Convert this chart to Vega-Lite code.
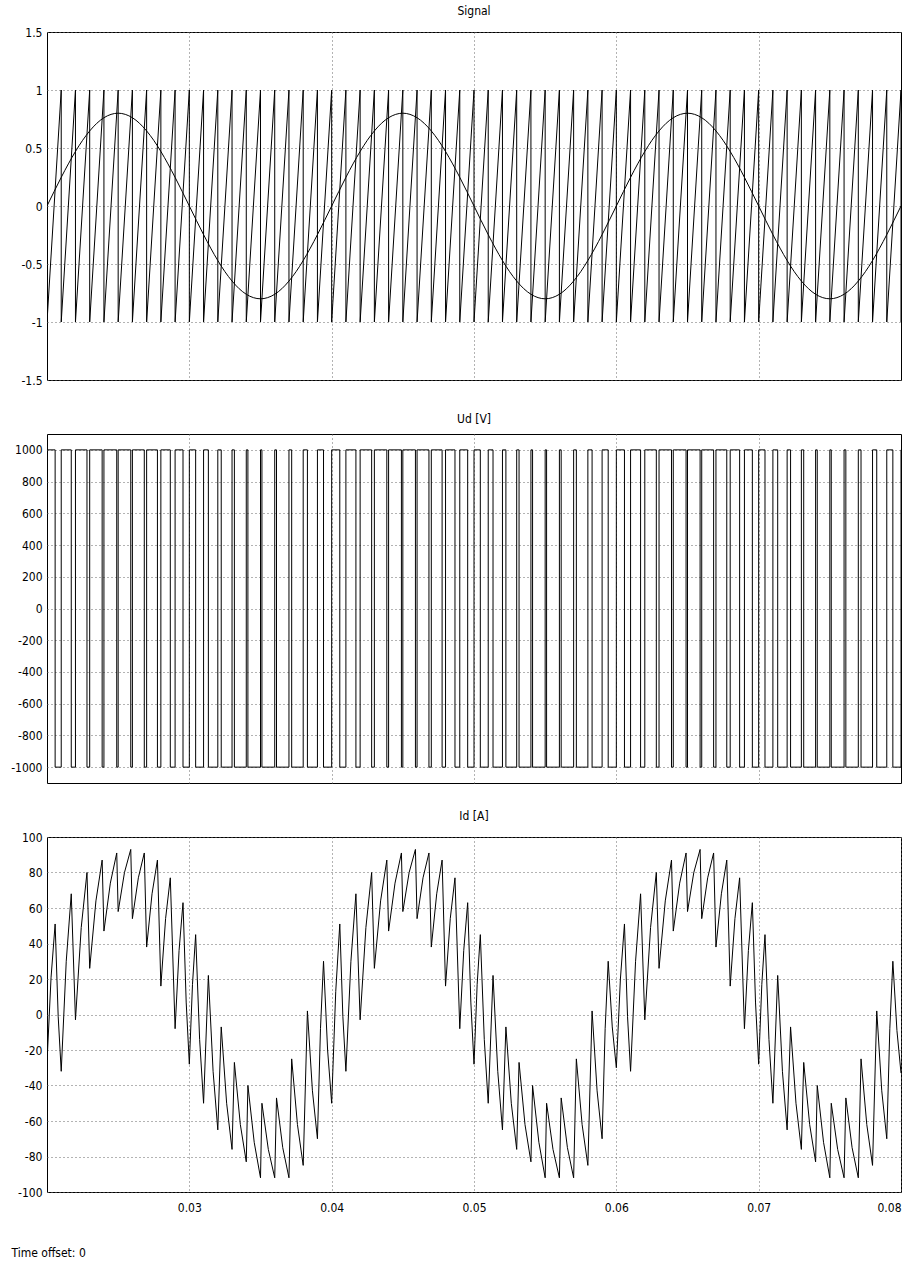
{
"$schema": "https://vega.github.io/schema/vega-lite/v6.json",
"padding": {"left": 6, "top": 4, "right": 14, "bottom": 0},
"spacing": 25,
"config": {
 "view": {"stroke": "#000", "strokeWidth": 1},
 "font": "Liberation Sans Narrow, DejaVu Sans Condensed, Liberation Sans, sans-serif",
 "axis": {"labelFontSize": 12, "labelColor": "#000", "labelFontWeight": "normal", "gridColor": "#666", "gridDash": [1, 3], "gridOpacity": 1, "gridWidth": 1, "ticks": false, "domain": false, "labelPadding": 5, "title": null},
 "title": {"fontSize": 12, "fontWeight": "normal", "color": "#000", "offset": 8},
 "line": {"stroke": "#000", "strokeWidth": 1}
},
"datasets": {
 "saw": [{"t":0.02,"v":-1},{"t":0.021,"v":1},{"t":0.021,"v":-1},{"t":0.022,"v":1},{"t":0.022,"v":-1},{"t":0.023,"v":1},{"t":0.023,"v":-1},{"t":0.024,"v":1},{"t":0.024,"v":-1},{"t":0.025,"v":1},{"t":0.025,"v":-1},{"t":0.026,"v":1},{"t":0.026,"v":-1},{"t":0.027,"v":1},{"t":0.027,"v":-1},{"t":0.028,"v":1},{"t":0.028,"v":-1},{"t":0.029,"v":1},{"t":0.029,"v":-1},{"t":0.03,"v":1},{"t":0.03,"v":-1},{"t":0.031,"v":1},{"t":0.031,"v":-1},{"t":0.032,"v":1},{"t":0.032,"v":-1},{"t":0.033,"v":1},{"t":0.033,"v":-1},{"t":0.034,"v":1},{"t":0.034,"v":-1},{"t":0.035,"v":1},{"t":0.035,"v":-1},{"t":0.036,"v":1},{"t":0.036,"v":-1},{"t":0.037,"v":1},{"t":0.037,"v":-1},{"t":0.038,"v":1},{"t":0.038,"v":-1},{"t":0.039,"v":1},{"t":0.039,"v":-1},{"t":0.04,"v":1},{"t":0.04,"v":-1},{"t":0.041,"v":1},{"t":0.041,"v":-1},{"t":0.042,"v":1},{"t":0.042,"v":-1},{"t":0.043,"v":1},{"t":0.043,"v":-1},{"t":0.044,"v":1},{"t":0.044,"v":-1},{"t":0.045,"v":1},{"t":0.045,"v":-1},{"t":0.046,"v":1},{"t":0.046,"v":-1},{"t":0.047,"v":1},{"t":0.047,"v":-1},{"t":0.048,"v":1},{"t":0.048,"v":-1},{"t":0.049,"v":1},{"t":0.049,"v":-1},{"t":0.05,"v":1},{"t":0.05,"v":-1},{"t":0.051,"v":1},{"t":0.051,"v":-1},{"t":0.052,"v":1},{"t":0.052,"v":-1},{"t":0.053,"v":1},{"t":0.053,"v":-1},{"t":0.054,"v":1},{"t":0.054,"v":-1},{"t":0.055,"v":1},{"t":0.055,"v":-1},{"t":0.056,"v":1},{"t":0.056,"v":-1},{"t":0.057,"v":1},{"t":0.057,"v":-1},{"t":0.058,"v":1},{"t":0.058,"v":-1},{"t":0.059,"v":1},{"t":0.059,"v":-1},{"t":0.06,"v":1},{"t":0.06,"v":-1},{"t":0.061,"v":1},{"t":0.061,"v":-1},{"t":0.062,"v":1},{"t":0.062,"v":-1},{"t":0.063,"v":1},{"t":0.063,"v":-1},{"t":0.064,"v":1},{"t":0.064,"v":-1},{"t":0.065,"v":1},{"t":0.065,"v":-1},{"t":0.066,"v":1},{"t":0.066,"v":-1},{"t":0.067,"v":1},{"t":0.067,"v":-1},{"t":0.068,"v":1},{"t":0.068,"v":-1},{"t":0.069,"v":1},{"t":0.069,"v":-1},{"t":0.07,"v":1},{"t":0.07,"v":-1},{"t":0.071,"v":1},{"t":0.071,"v":-1},{"t":0.072,"v":1},{"t":0.072,"v":-1},{"t":0.073,"v":1},{"t":0.073,"v":-1},{"t":0.074,"v":1},{"t":0.074,"v":-1},{"t":0.075,"v":1},{"t":0.075,"v":-1},{"t":0.076,"v":1},{"t":0.076,"v":-1},{"t":0.077,"v":1},{"t":0.077,"v":-1},{"t":0.078,"v":1},{"t":0.078,"v":-1},{"t":0.079,"v":1},{"t":0.079,"v":-1},{"t":0.08,"v":1},{"t":0.08,"v":-1}],
 "sine": [{"t":0.02,"v":0},{"t":0.0205,"v":0.125},{"t":0.021,"v":0.247},{"t":0.0215,"v":0.363},{"t":0.022,"v":0.47},{"t":0.0225,"v":0.566},{"t":0.023,"v":0.647},{"t":0.0235,"v":0.713},{"t":0.024,"v":0.761},{"t":0.0245,"v":0.79},{"t":0.025,"v":0.8},{"t":0.0255,"v":0.79},{"t":0.026,"v":0.761},{"t":0.0265,"v":0.713},{"t":0.027,"v":0.647},{"t":0.0275,"v":0.566},{"t":0.028,"v":0.47},{"t":0.0285,"v":0.363},{"t":0.029,"v":0.247},{"t":0.0295,"v":0.125},{"t":0.03,"v":0},{"t":0.0305,"v":-0.125},{"t":0.031,"v":-0.247},{"t":0.0315,"v":-0.363},{"t":0.032,"v":-0.47},{"t":0.0325,"v":-0.566},{"t":0.033,"v":-0.647},{"t":0.0335,"v":-0.713},{"t":0.034,"v":-0.761},{"t":0.0345,"v":-0.79},{"t":0.035,"v":-0.8},{"t":0.0355,"v":-0.79},{"t":0.036,"v":-0.761},{"t":0.0365,"v":-0.713},{"t":0.037,"v":-0.647},{"t":0.0375,"v":-0.566},{"t":0.038,"v":-0.47},{"t":0.0385,"v":-0.363},{"t":0.039,"v":-0.247},{"t":0.0395,"v":-0.125},{"t":0.04,"v":0},{"t":0.0405,"v":0.125},{"t":0.041,"v":0.247},{"t":0.0415,"v":0.363},{"t":0.042,"v":0.47},{"t":0.0425,"v":0.566},{"t":0.043,"v":0.647},{"t":0.0435,"v":0.713},{"t":0.044,"v":0.761},{"t":0.0445,"v":0.79},{"t":0.045,"v":0.8},{"t":0.0455,"v":0.79},{"t":0.046,"v":0.761},{"t":0.0465,"v":0.713},{"t":0.047,"v":0.647},{"t":0.0475,"v":0.566},{"t":0.048,"v":0.47},{"t":0.0485,"v":0.363},{"t":0.049,"v":0.247},{"t":0.0495,"v":0.125},{"t":0.05,"v":0},{"t":0.0505,"v":-0.125},{"t":0.051,"v":-0.247},{"t":0.0515,"v":-0.363},{"t":0.052,"v":-0.47},{"t":0.0525,"v":-0.566},{"t":0.053,"v":-0.647},{"t":0.0535,"v":-0.713},{"t":0.054,"v":-0.761},{"t":0.0545,"v":-0.79},{"t":0.055,"v":-0.8},{"t":0.0555,"v":-0.79},{"t":0.056,"v":-0.761},{"t":0.0565,"v":-0.713},{"t":0.057,"v":-0.647},{"t":0.0575,"v":-0.566},{"t":0.058,"v":-0.47},{"t":0.0585,"v":-0.363},{"t":0.059,"v":-0.247},{"t":0.0595,"v":-0.125},{"t":0.06,"v":0},{"t":0.0605,"v":0.125},{"t":0.061,"v":0.247},{"t":0.0615,"v":0.363},{"t":0.062,"v":0.47},{"t":0.0625,"v":0.566},{"t":0.063,"v":0.647},{"t":0.0635,"v":0.713},{"t":0.064,"v":0.761},{"t":0.0645,"v":0.79},{"t":0.065,"v":0.8},{"t":0.0655,"v":0.79},{"t":0.066,"v":0.761},{"t":0.0665,"v":0.713},{"t":0.067,"v":0.647},{"t":0.0675,"v":0.566},{"t":0.068,"v":0.47},{"t":0.0685,"v":0.363},{"t":0.069,"v":0.247},{"t":0.0695,"v":0.125},{"t":0.07,"v":0},{"t":0.0705,"v":-0.125},{"t":0.071,"v":-0.247},{"t":0.0715,"v":-0.363},{"t":0.072,"v":-0.47},{"t":0.0725,"v":-0.566},{"t":0.073,"v":-0.647},{"t":0.0735,"v":-0.713},{"t":0.074,"v":-0.761},{"t":0.0745,"v":-0.79},{"t":0.075,"v":-0.8},{"t":0.0755,"v":-0.79},{"t":0.076,"v":-0.761},{"t":0.0765,"v":-0.713},{"t":0.077,"v":-0.647},{"t":0.0775,"v":-0.566},{"t":0.078,"v":-0.47},{"t":0.0785,"v":-0.363},{"t":0.079,"v":-0.247},{"t":0.0795,"v":-0.125},{"t":0.08,"v":0}],
 "ud": [{"t":0.02,"v":1000},{"t":0.020571,"v":-1000},{"t":0.021,"v":1000},{"t":0.021704,"v":-1000},{"t":0.022,"v":1000},{"t":0.022809,"v":-1000},{"t":0.023,"v":1000},{"t":0.023875,"v":-1000},{"t":0.024,"v":1000},{"t":0.0249,"v":-1000},{"t":0.025,"v":1000},{"t":0.025885,"v":-1000},{"t":0.026,"v":1000},{"t":0.026835,"v":-1000},{"t":0.027,"v":1000},{"t":0.027759,"v":-1000},{"t":0.028,"v":1000},{"t":0.028663,"v":-1000},{"t":0.029,"v":1000},{"t":0.029556,"v":-1000},{"t":0.03,"v":1000},{"t":0.030444,"v":-1000},{"t":0.031,"v":1000},{"t":0.031337,"v":-1000},{"t":0.032,"v":1000},{"t":0.032241,"v":-1000},{"t":0.033,"v":1000},{"t":0.033165,"v":-1000},{"t":0.034,"v":1000},{"t":0.034115,"v":-1000},{"t":0.035,"v":1000},{"t":0.0351,"v":-1000},{"t":0.036,"v":1000},{"t":0.036125,"v":-1000},{"t":0.037,"v":1000},{"t":0.037191,"v":-1000},{"t":0.038,"v":1000},{"t":0.038296,"v":-1000},{"t":0.039,"v":1000},{"t":0.039428,"v":-1000},{"t":0.04,"v":1000},{"t":0.040571,"v":-1000},{"t":0.041,"v":1000},{"t":0.041704,"v":-1000},{"t":0.042,"v":1000},{"t":0.042809,"v":-1000},{"t":0.043,"v":1000},{"t":0.043875,"v":-1000},{"t":0.044,"v":1000},{"t":0.0449,"v":-1000},{"t":0.045,"v":1000},{"t":0.045885,"v":-1000},{"t":0.046,"v":1000},{"t":0.046835,"v":-1000},{"t":0.047,"v":1000},{"t":0.047759,"v":-1000},{"t":0.048,"v":1000},{"t":0.048663,"v":-1000},{"t":0.049,"v":1000},{"t":0.049556,"v":-1000},{"t":0.05,"v":1000},{"t":0.050444,"v":-1000},{"t":0.051,"v":1000},{"t":0.051337,"v":-1000},{"t":0.052,"v":1000},{"t":0.052241,"v":-1000},{"t":0.053,"v":1000},{"t":0.053165,"v":-1000},{"t":0.054,"v":1000},{"t":0.054115,"v":-1000},{"t":0.055,"v":1000},{"t":0.0551,"v":-1000},{"t":0.056,"v":1000},{"t":0.056125,"v":-1000},{"t":0.057,"v":1000},{"t":0.057191,"v":-1000},{"t":0.058,"v":1000},{"t":0.058296,"v":-1000},{"t":0.059,"v":1000},{"t":0.059428,"v":-1000},{"t":0.06,"v":1000},{"t":0.060571,"v":-1000},{"t":0.061,"v":1000},{"t":0.061704,"v":-1000},{"t":0.062,"v":1000},{"t":0.062809,"v":-1000},{"t":0.063,"v":1000},{"t":0.063875,"v":-1000},{"t":0.064,"v":1000},{"t":0.0649,"v":-1000},{"t":0.065,"v":1000},{"t":0.065885,"v":-1000},{"t":0.066,"v":1000},{"t":0.066835,"v":-1000},{"t":0.067,"v":1000},{"t":0.067759,"v":-1000},{"t":0.068,"v":1000},{"t":0.068663,"v":-1000},{"t":0.069,"v":1000},{"t":0.069556,"v":-1000},{"t":0.07,"v":1000},{"t":0.070444,"v":-1000},{"t":0.071,"v":1000},{"t":0.071337,"v":-1000},{"t":0.072,"v":1000},{"t":0.072241,"v":-1000},{"t":0.073,"v":1000},{"t":0.073165,"v":-1000},{"t":0.074,"v":1000},{"t":0.074115,"v":-1000},{"t":0.075,"v":1000},{"t":0.0751,"v":-1000},{"t":0.076,"v":1000},{"t":0.076125,"v":-1000},{"t":0.077,"v":1000},{"t":0.077191,"v":-1000},{"t":0.078,"v":1000},{"t":0.078296,"v":-1000},{"t":0.079,"v":1000},{"t":0.079428,"v":-1000},{"t":0.08,"v":1000}],
 "id": [{"t":0.02,"v":-27},{"t":0.020286,"v":21},{"t":0.020571,"v":51},{"t":0.020786,"v":-1},{"t":0.021,"v":-32},{"t":0.021352,"v":30},{"t":0.021704,"v":68},{"t":0.022,"v":-3},{"t":0.022405,"v":49},{"t":0.022809,"v":80},{"t":0.023,"v":26},{"t":0.023438,"v":64},{"t":0.023875,"v":87},{"t":0.024,"v":47},{"t":0.02445,"v":74},{"t":0.0249,"v":91},{"t":0.025,"v":58},{"t":0.025443,"v":80},{"t":0.025885,"v":93},{"t":0.026,"v":54},{"t":0.026418,"v":77},{"t":0.026835,"v":91},{"t":0.027,"v":38},{"t":0.02738,"v":68},{"t":0.027759,"v":87},{"t":0.028,"v":16},{"t":0.028332,"v":54},{"t":0.028663,"v":77},{"t":0.029,"v":-8},{"t":0.029278,"v":36},{"t":0.029556,"v":63},{"t":0.029778,"v":7},{"t":0.03,"v":-28},{"t":0.030222,"v":17},{"t":0.030444,"v":45},{"t":0.030722,"v":-14},{"t":0.031,"v":-50},{"t":0.031337,"v":22},{"t":0.031669,"v":-32},{"t":0.032,"v":-65},{"t":0.032241,"v":-7},{"t":0.032621,"v":-50},{"t":0.033,"v":-76},{"t":0.033165,"v":-27},{"t":0.033583,"v":-62},{"t":0.034,"v":-83},{"t":0.034115,"v":-40},{"t":0.034558,"v":-72},{"t":0.035,"v":-92},{"t":0.0351,"v":-50},{"t":0.03555,"v":-76},{"t":0.036,"v":-92},{"t":0.036125,"v":-47},{"t":0.036563,"v":-75},{"t":0.037,"v":-92},{"t":0.037191,"v":-25},{"t":0.037596,"v":-62},{"t":0.038,"v":-85},{"t":0.038296,"v":2},{"t":0.038648,"v":-43},{"t":0.039,"v":-70},{"t":0.039214,"v":-8},{"t":0.039428,"v":30},{"t":0.039714,"v":-20},
 {"t":0.04,"v":-50},{"t":0.040286,"v":13},{"t":0.040571,"v":51},{"t":0.040786,"v":-1},{"t":0.041,"v":-32},{"t":0.041352,"v":30},{"t":0.041704,"v":68},{"t":0.042,"v":-3},{"t":0.042405,"v":49},{"t":0.042809,"v":80},{"t":0.043,"v":26},{"t":0.043438,"v":64},{"t":0.043875,"v":87},{"t":0.044,"v":47},{"t":0.04445,"v":74},{"t":0.0449,"v":91},{"t":0.045,"v":58},{"t":0.045443,"v":80},{"t":0.045885,"v":93},{"t":0.046,"v":54},{"t":0.046418,"v":77},{"t":0.046835,"v":91},{"t":0.047,"v":38},{"t":0.04738,"v":68},{"t":0.047759,"v":87},{"t":0.048,"v":16},{"t":0.048332,"v":54},{"t":0.048663,"v":77},{"t":0.049,"v":-8},{"t":0.049278,"v":36},{"t":0.049556,"v":63},{"t":0.049778,"v":7},{"t":0.05,"v":-28},{"t":0.050222,"v":17},{"t":0.050444,"v":45},{"t":0.050722,"v":-14},{"t":0.051,"v":-50},{"t":0.051337,"v":22},{"t":0.051669,"v":-32},{"t":0.052,"v":-65},{"t":0.052241,"v":-7},{"t":0.052621,"v":-50},{"t":0.053,"v":-76},{"t":0.053165,"v":-27},{"t":0.053583,"v":-62},{"t":0.054,"v":-83},{"t":0.054115,"v":-40},{"t":0.054558,"v":-72},{"t":0.055,"v":-92},{"t":0.0551,"v":-50},{"t":0.05555,"v":-76},{"t":0.056,"v":-92},{"t":0.056125,"v":-47},{"t":0.056563,"v":-75},{"t":0.057,"v":-92},{"t":0.057191,"v":-25},{"t":0.057596,"v":-62},{"t":0.058,"v":-85},{"t":0.058296,"v":2},{"t":0.058648,"v":-43},{"t":0.059,"v":-70},{"t":0.059214,"v":-8},{"t":0.059428,"v":30},{"t":0.059714,"v":-7},
 {"t":0.06,"v":-30},{"t":0.060286,"v":20},{"t":0.060571,"v":51},{"t":0.060786,"v":-1},{"t":0.061,"v":-32},{"t":0.061352,"v":30},{"t":0.061704,"v":68},{"t":0.062,"v":-3},{"t":0.062405,"v":49},{"t":0.062809,"v":80},{"t":0.063,"v":26},{"t":0.063438,"v":64},{"t":0.063875,"v":87},{"t":0.064,"v":47},{"t":0.06445,"v":74},{"t":0.0649,"v":91},{"t":0.065,"v":58},{"t":0.065443,"v":80},{"t":0.065885,"v":93},{"t":0.066,"v":54},{"t":0.066418,"v":77},{"t":0.066835,"v":91},{"t":0.067,"v":38},{"t":0.06738,"v":68},{"t":0.067759,"v":87},{"t":0.068,"v":16},{"t":0.068332,"v":54},{"t":0.068663,"v":77},{"t":0.069,"v":-8},{"t":0.069278,"v":36},{"t":0.069556,"v":63},{"t":0.069778,"v":7},{"t":0.07,"v":-28},{"t":0.070222,"v":17},{"t":0.070444,"v":45},{"t":0.070722,"v":-14},{"t":0.071,"v":-50},{"t":0.071337,"v":22},{"t":0.071669,"v":-32},{"t":0.072,"v":-65},{"t":0.072241,"v":-7},{"t":0.072621,"v":-50},{"t":0.073,"v":-76},{"t":0.073165,"v":-27},{"t":0.073583,"v":-62},{"t":0.074,"v":-83},{"t":0.074115,"v":-40},{"t":0.074558,"v":-72},{"t":0.075,"v":-92},{"t":0.0751,"v":-50},{"t":0.07555,"v":-76},{"t":0.076,"v":-92},{"t":0.076125,"v":-47},{"t":0.076563,"v":-75},{"t":0.077,"v":-92},{"t":0.077191,"v":-25},{"t":0.077596,"v":-62},{"t":0.078,"v":-85},{"t":0.078296,"v":2},{"t":0.078648,"v":-43},{"t":0.079,"v":-70},{"t":0.079214,"v":-8},{"t":0.079428,"v":30},{"t":0.079714,"v":-9},{"t":0.08,"v":-33}]
},
"vconcat": [
 {
  "title": "Signal",
  "width": 854, "height": 348,
  "layer": [
   {"data": {"name": "saw"}, "mark": {"type": "line", "clip": true},
    "encoding": {
     "x": {"field": "t", "type": "quantitative", "scale": {"domain": [0.02, 0.08], "nice": false, "zero": false}, "axis": {"values": [0.03, 0.04, 0.05, 0.06, 0.07], "labels": false, "grid": true, "minExtent": 0, "maxExtent": 0}},
     "y": {"field": "v", "type": "quantitative", "scale": {"domain": [-1.5, 1.5], "nice": false, "zero": false}, "axis": {"values": [-1.5, -1, -0.5, 0, 0.5, 1, 1.5], "labelExpr": "'' + datum.value", "grid": true, "minExtent": 40, "maxExtent": 40}},
     "order": {"value": null}
    }},
   {"data": {"name": "sine"}, "mark": {"type": "line", "interpolate": "monotone", "clip": true},
    "encoding": {
     "x": {"field": "t", "type": "quantitative"},
     "y": {"field": "v", "type": "quantitative"}
    }}
  ]
 },
 {
  "title": "Ud [V]",
  "width": 854, "height": 349,
  "data": {"name": "ud"},
  "mark": {"type": "line", "interpolate": "step-after", "clip": true},
  "encoding": {
   "x": {"field": "t", "type": "quantitative", "scale": {"domain": [0.02, 0.08], "nice": false, "zero": false}, "axis": {"values": [0.03, 0.04, 0.05, 0.06, 0.07], "labels": false, "grid": true, "minExtent": 0, "maxExtent": 0}},
   "y": {"field": "v", "type": "quantitative", "scale": {"domain": [-1100, 1100], "nice": false, "zero": false}, "axis": {"values": [-1000, -800, -600, -400, -200, 0, 200, 400, 600, 800, 1000], "labelExpr": "'' + datum.value", "grid": true, "minExtent": 40, "maxExtent": 40}}
  }
 },
 {
  "title": "Id [A]",
  "width": 854, "height": 355,
  "data": {"name": "id"},
  "mark": {"type": "line", "clip": true},
  "encoding": {
   "x": {"field": "t", "type": "quantitative", "scale": {"domain": [0.02, 0.08], "nice": false, "zero": false}, "axis": {"values": [0.03, 0.04, 0.05, 0.06, 0.07, 0.08], "format": ".2f", "labelPadding": 10, "grid": true, "title": "Time offset: 0", "titleX": -36, "titleY": 60, "titleAlign": "left", "titleBaseline": "middle", "titleFontWeight": "normal", "titleFontSize": 12, "titleColor": "#000"}},
   "y": {"field": "v", "type": "quantitative", "scale": {"domain": [-100, 100], "nice": false, "zero": false}, "axis": {"values": [-100, -80, -60, -40, -20, 0, 20, 40, 60, 80, 100], "labelExpr": "'' + datum.value", "grid": true, "minExtent": 40, "maxExtent": 40}}
  }
 }
]
}
